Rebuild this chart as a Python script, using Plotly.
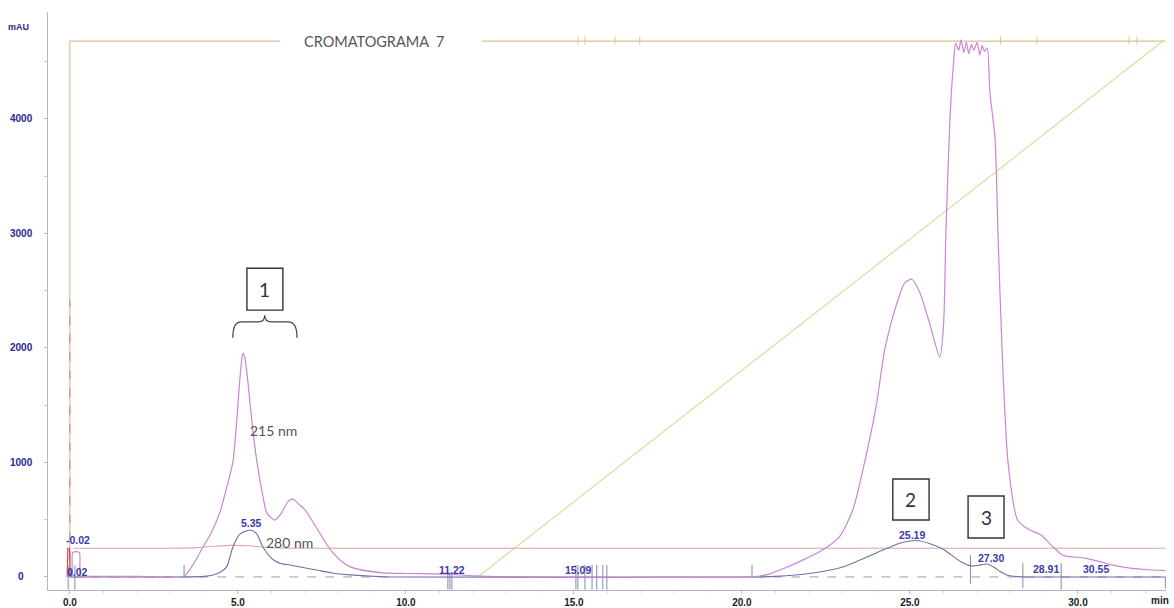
import plotly.graph_objects as go

# ---------------- data ----------------
# 215 nm trace (magenta)
t215 = [0.0, 0.06, 0.09, 0.28, 0.32, 0.5, 2.0, 3.4, 3.63, 3.96, 4.2, 4.46, 4.65, 4.85, 4.95, 5.03, 5.1, 5.15,
        5.21, 5.3, 5.43, 5.57, 5.75, 5.86, 6.1, 6.3, 6.5, 6.64, 6.8, 7.0, 7.38, 7.83, 8.33, 9.32, 10.0, 11.2,
        12.0, 13.0, 15.0, 18.0, 20.4, 20.8, 21.3, 21.9, 22.4, 22.9, 23.3, 23.6, 24.0, 24.26, 24.6, 24.85,
        25.06, 25.3, 25.6, 25.89, 26.0, 26.07, 26.19, 26.3, 26.36, 26.45, 26.52, 26.6, 26.68, 26.75, 26.83,
        26.9, 27.0, 27.08, 27.15, 27.22, 27.3, 27.38, 27.53, 27.62, 27.74, 27.92, 28.2, 28.5, 28.9, 29.2,
        29.55, 30.2, 30.7, 31.0, 31.5, 32.0, 32.6]
v215 = [0, 0, 215, 215, 0, 5, 5, 8, 90, 260, 380, 560, 760, 1000, 1300, 1620, 1860, 1955,
        1910, 1700, 1320, 1000, 700, 560, 497, 560, 660, 680, 640, 585, 410, 210, 90, 35, 30, 25,
        10, 3, 0, 0, 3, 25, 80, 160, 235, 350, 585, 935, 1500, 2000, 2380, 2570,
        2600, 2480, 2200, 1920, 2200, 3000, 4000, 4500, 4660, 4600, 4690, 4580, 4670, 4570, 4650,
        4600, 4670, 4560, 4640, 4590, 4620, 4230, 3840, 3000, 2000, 1000, 500, 420, 366, 280,
        190, 165, 130, 105, 80, 65, 55]

# 280 nm trace (blue)
t280 = [0.0, 0.02, 0.05, 0.1, 3.4, 4.0, 4.26, 4.5, 4.67, 4.85, 5.05, 5.35, 5.55, 5.75, 6.05, 6.3, 6.55,
        6.9, 7.35, 7.8, 8.33, 9.3, 10.0, 20.5, 21.0, 22.0, 23.0, 24.0, 24.7, 25.19, 25.6, 26.0, 26.5,
        26.85, 27.1, 27.3, 27.5, 27.7, 27.9, 28.2, 28.5, 32.6]
v280 = [0, 40, 0, 0, 0, 5, 17, 45, 90, 260, 370, 410, 380, 260, 150, 115, 105,
        85, 60, 35, 18, 2, 0, 0, 5, 30, 87, 210, 295, 318, 290, 240, 135,
        95, 105, 113, 85, 45, 15, 3, 0, 0]

# reference trace (reddish, ~250 mAU)
tref = [0.1, 3.0, 3.8, 4.3, 4.8, 5.3, 5.8, 6.6, 32.6]
vref = [250, 250, 256, 268, 276, 272, 260, 250, 250]

# injection spike (red)
tspk = [-0.08, -0.06, -0.01, 0.01, 0.05]
vspk = [0, 250, 250, 0, 0]

# gradient (%B) trace, top level and ramp
grad_top_t = [0.0, 0.0, 6.25, None, 12.26, 32.6]
grad_top_v = [0, 4680, 4680, None, 4680, 4680]
ramp_t = [12.14, 32.53]
ramp_v = [0, 4680]
grad_ticks_t = [15.12, 15.33, 16.22, 16.96, 27.7, 28.78, 31.52, 31.76]

# injection marker (dashed)
inj_t = [0.0, 0.0]
inj_v = [0, 2420]

# integration baselines (dashed)
base_t = [0.1, 9.6, None, 20.4, 32.6]
base_v = [0, 0, None, 0, 0]

# integration event marks: time, low, high
mark_t = [-0.05, 0.15, 3.4, 11.25, 11.31, 11.37, 15.06, 15.12, 15.33, 15.54, 15.68, 15.86, 15.98,
          20.3, 26.8, 28.36, 29.5, 32.6]
mark_lo = [-110, -110, 0, -110, -110, -110, -110, -110, -110, -110, -110, -110, -110,
           0, -60, -95, -110, -100]
mark_hi = [100, 100, 105, 35, 35, 35, 105, 105, 105, 105, 105, 105, 105,
           105, 190, 120, 120, 0]

# retention-time labels: text, time, height
rt_text = ["-0.02", "0.02", "5.35", "11.22", "15.09", "25.19", "27.30", "28.91", "30.55"]
rt_x = [0.24, 0.24, 5.42, 11.37, 15.12, 25.06, 27.4, 29.05, 30.55]
rt_y = [325, 45, 470, 60, 60, 365, 165, 70, 70]

# numbered fraction boxes: label, x0, x1, y0, y1
box_lbl = ["1", "2", "3"]
box_x0 = [5.27, 24.49, 26.73]
box_x1 = [6.34, 25.57, 27.80]
box_y0 = [2330, 497, 340]
box_y1 = [2696, 855, 707]

ytick_vals = [0, 1000, 2000, 3000, 4000]
xtick_vals = [0, 5, 10, 15, 20, 25, 30]

# ---------------- figure ----------------
fig = go.Figure()


def line(x, y, color, width=1.0, dash="solid", shape="linear"):
    ln = dict(color=color, width=width, dash=dash, shape=shape)
    if shape == "spline":
        ln["smoothing"] = 0.7
    fig.add_trace(go.Scatter(x=x, y=y, mode="lines", line=ln, hoverinfo="skip", showlegend=False))


line(grad_top_t, grad_top_v, "#dcc28c", 1.2)
gx, gy = [], []
for t in grad_ticks_t:
    gx += [t, t, None]
    gy += [4650, 4720, None]
line(gx, gy, "#dcc28c", 1.0)
line(ramp_t, ramp_v, "#d8df9c", 1.2)
line(base_t, base_v, "#9a9abd", 1.0, "dash")
line(tref, vref, "#dba4ac", 1.1, shape="spline")
line(inj_t, inj_v, "#e57a88", 1.1, "dash")
line(tspk, vspk, "#d24a5a", 1.2)

mx, my = [], []
for t, lo, hi in zip(mark_t, mark_lo, mark_hi):
    mx += [t, t, None]
    my += [lo, hi, None]
line(mx, my, "#8686b4", 1.0)

line(t280, v280, "#7070a8", 1.1, shape="spline")
line(t215, v215, "#c985d6", 1.2, shape="spline")

ann = []
for txt, x, y in zip(rt_text, rt_x, rt_y):
    ann.append(dict(x=x, y=y, text=f"<b>{txt}</b>", showarrow=False, xanchor="center", yanchor="middle",
                    font=dict(family="Arial, Liberation Sans", size=10.5, color="#3a3aa8")))

ann.append(dict(x=6.05, y=1280, text="215 nm", showarrow=False, font=dict(family="Lato", size=14, color="#555555")))
ann.append(dict(x=6.55, y=300, text="280 nm", showarrow=False, font=dict(family="Lato", size=14, color="#555555")))
ann.append(dict(x=9.06, y=4680, text="CROMATOGRAMA&nbsp;&nbsp;7", showarrow=False,
                font=dict(family="Lato", size=14.5, color="#555555")))

shapes = []
for lbl, x0, x1, y0, y1 in zip(box_lbl, box_x0, box_x1, box_y0, box_y1):
    shapes.append(dict(type="rect", xref="x", yref="y", x0=x0, x1=x1, y0=y0, y1=y1,
                       line=dict(color="#333333", width=1.4)))
    ann.append(dict(x=(x0 + x1) / 2, y=(y0 + y1) / 2, text=lbl, showarrow=False,
                    font=dict(family="Lato", size=19, color="#333333")))

# bracket over group 1
shapes.append(dict(type="path", xref="x", yref="y",
                   path="M 4.85 2090 Q 4.85 2227 5.1 2227 L 5.6 2227 Q 5.8 2227 5.8 2285 "
                        "Q 5.8 2227 6.0 2227 L 6.5 2227 Q 6.76 2227 6.76 2090",
                   line=dict(color="#444444", width=1.2)))

# y tick labels (centred, as in the original)
for v in ytick_vals:
    ann.append(dict(xref="paper", x=0, xshift=-27, y=v, yref="y", text=f"<b>{v}</b>", showarrow=False,
                    xanchor="center", font=dict(family="Arial, Liberation Sans", size=10, color="#2a2a90")))
ann.append(dict(xref="paper", x=0, xshift=-30, yref="paper", y=1, yshift=-8, text="<b>mAU</b>",
                showarrow=False, xanchor="center", font=dict(family="Arial, Liberation Sans", size=9, color="#2a2a90")))
ann.append(dict(xref="paper", x=1, xshift=-6, yref="paper", y=0, yshift=-10, text="<b>min</b>",
                showarrow=False, xanchor="center", yanchor="middle",
                font=dict(family="Arial, Liberation Sans", size=10, color="#222222")))

fig.update_layout(
    width=1174, height=608,
    margin=dict(l=48, r=8, t=12, b=18, autoexpand=False),
    paper_bgcolor="white", plot_bgcolor="white",
    annotations=ann, shapes=shapes,
    xaxis=dict(range=[-0.65, 32.62], showgrid=False, zeroline=False, showline=True, automargin=False,
               linecolor="#b4b4cc", linewidth=1, tickvals=xtick_vals,
               ticktext=[f"<b>{v:.1f}</b>" for v in xtick_vals], ticks="outside", ticklen=3,
               tickcolor="#b4b4cc", tickfont=dict(family="Arial, Liberation Sans", size=10, color="#222222"),
               minor=dict(dtick=1, ticks="outside", ticklen=2, tickcolor="#d0d0e0")),
    yaxis=dict(range=[-114, 4934], showgrid=False, zeroline=False, showline=True, automargin=False,
               linecolor="#b4b4cc", linewidth=1, tickvals=ytick_vals, showticklabels=False,
               ticks="outside", ticklen=3, tickcolor="#b4b4cc",
               minor=dict(dtick=500, ticks="outside", ticklen=3, tickcolor="#c8c8dc")),
)

fig.write_html("out.html")
